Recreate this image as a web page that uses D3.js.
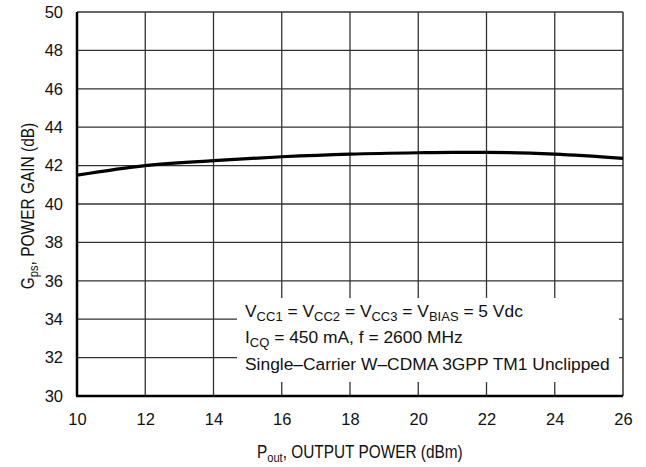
<!DOCTYPE html>
<html>
<head>
<meta charset="utf-8">
<script src="https://cdn.jsdelivr.net/npm/d3@7"></script>
<style>
  body { margin: 0; background: #fff; }
  svg text { font-family: "Liberation Sans", Arial, sans-serif; fill: #111; }
</style>
</head>
<body>
<svg id="chart" width="646" height="467"></svg>
<script>
// data
const poutDbm = [10, 12, 14, 16, 18, 20, 21, 22, 24, 26]
const gainDb = [41.5, 42.0, 42.26, 42.46, 42.6, 42.67, 42.69, 42.69, 42.6, 42.38]
const xTicks = [10, 12, 14, 16, 18, 20, 22, 24, 26]
const yTicks = [30, 32, 34, 36, 38, 40, 42, 44, 46, 48, 50]

const svg = d3.select("#chart")
const margin = {top: 12, right: 23, bottom: 71, left: 77}
const width = 646 - margin.left - margin.right
const height = 467 - margin.top - margin.bottom

const x = d3.scaleLinear().domain([10, 26]).range([0, width])
const y = d3.scaleLinear().domain([30, 50]).range([height, 0])

const g = svg.append("g").attr("transform", `translate(${margin.left},${margin.top})`)

// grid
g.append("g")
  .selectAll("line")
  .data(xTicks.slice(1, -1))
  .join("line")
  .attr("x1", d => x(d)).attr("x2", d => x(d))
  .attr("y1", 0).attr("y2", height)
  .attr("stroke", "#333").attr("stroke-width", 1.3)

g.append("g")
  .selectAll("line")
  .data(yTicks.slice(1, -1))
  .join("line")
  .attr("x1", 0).attr("x2", width)
  .attr("y1", d => y(d)).attr("y2", d => y(d))
  .attr("stroke", "#333").attr("stroke-width", 1.3)

// annotation box hides the grid behind the text
g.append("rect")
  .attr("x", 237 - margin.left).attr("y", 298 - margin.top)
  .attr("width", 619 - 237).attr("height", 382 - 298)
  .attr("fill", "#fff")

// frame: top/right thin, left/bottom heavy
g.append("line").attr("x1", 0).attr("x2", width).attr("y1", 0).attr("y2", 0)
  .attr("stroke", "#333").attr("stroke-width", 1.5)
g.append("line").attr("x1", width).attr("x2", width).attr("y1", 0).attr("y2", height)
  .attr("stroke", "#333").attr("stroke-width", 1.5)
g.append("line").attr("x1", 0).attr("x2", 0).attr("y1", 0).attr("y2", height)
  .attr("stroke", "#000").attr("stroke-width", 2.5)
g.append("line").attr("x1", -1).attr("x2", width).attr("y1", height).attr("y2", height)
  .attr("stroke", "#000").attr("stroke-width", 2.5)

// tick labels
const xAxis = g.append("g")
  .attr("transform", `translate(0,${height})`)
  .call(d3.axisBottom(x).tickValues(xTicks).tickSize(0).tickPadding(17))
xAxis.attr("font-family", null).attr("font-size", 16.5)
xAxis.select(".domain").remove()
xAxis.selectAll("text").attr("fill", "#111")

const yAxis = g.append("g")
  .call(d3.axisLeft(y).tickValues(yTicks).tickSize(0).tickPadding(14))
yAxis.attr("font-family", null).attr("font-size", 16.5)
yAxis.select(".domain").remove()
yAxis.selectAll("text").attr("fill", "#111")

// curve
const line = d3.line()
  .x((d, i) => x(poutDbm[i]))
  .y(d => y(d))
  .curve(d3.curveMonotoneX)

g.append("path")
  .datum(gainDb)
  .attr("d", line)
  .attr("fill", "none")
  .attr("stroke", "#000")
  .attr("stroke-width", 3.2)

// annotation text
const note = svg.append("g").attr("font-size", 17.4)
const l1 = note.append("text").attr("x", 245).attr("y", 317)
l1.append("tspan").text("V")
l1.append("tspan").attr("dy", 4).attr("font-size", 13).text("CC1")
l1.append("tspan").attr("dy", -4).text(" = V")
l1.append("tspan").attr("dy", 4).attr("font-size", 13).text("CC2")
l1.append("tspan").attr("dy", -4).text(" = V")
l1.append("tspan").attr("dy", 4).attr("font-size", 13).text("CC3")
l1.append("tspan").attr("dy", -4).text(" = V")
l1.append("tspan").attr("dy", 4).attr("font-size", 13).text("BIAS")
l1.append("tspan").attr("dy", -4).text(" = 5 Vdc")

const l2 = note.append("text").attr("x", 245).attr("y", 343)
l2.append("tspan").text("I")
l2.append("tspan").attr("dy", 4).attr("font-size", 13).text("CQ")
l2.append("tspan").attr("dy", -4).text(" = 450 mA, f = 2600 MHz")

note.append("text").attr("x", 245).attr("y", 370).text("Single\u2013Carrier W\u2013CDMA 3GPP TM1 Unclipped")

// axis titles (condensed look via horizontal squeeze)
const xt = svg.append("text")
  .attr("transform", "translate(257,458) scale(0.855,1)")
  .attr("font-size", 18)
xt.append("tspan").text("P")
xt.append("tspan").attr("dy", 4).attr("font-size", 13).text("out")
xt.append("tspan").attr("dy", -4).text(", OUTPUT POWER (dBm)")

const yt = svg.append("text")
  .attr("transform", `translate(34,${margin.top + height / 2 + 2}) rotate(-90) scale(0.86,1)`)
  .attr("text-anchor", "middle")
  .attr("font-size", 18)
yt.append("tspan").text("G")
yt.append("tspan").attr("dy", 4).attr("font-size", 13).text("ps")
yt.append("tspan").attr("dy", -4).text(", POWER GAIN (dB)")
</script>
</body>
</html>
